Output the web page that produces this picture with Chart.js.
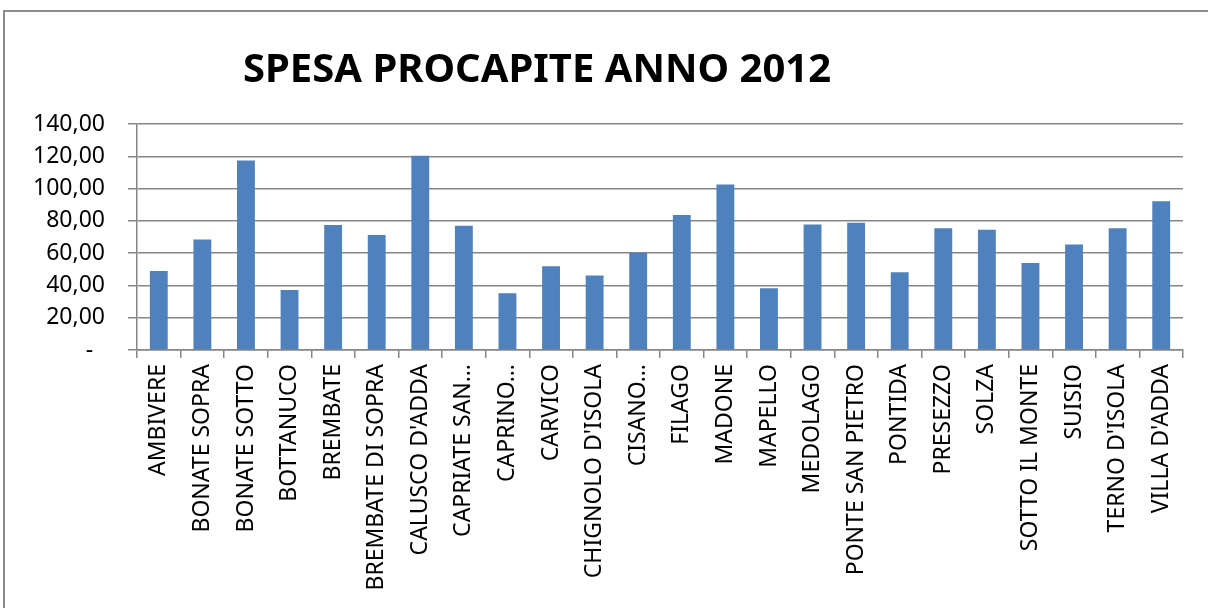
<!DOCTYPE html>
<html>
<head>
<meta charset="utf-8">
<script src="https://cdn.jsdelivr.net/npm/chart.js@4/dist/chart.umd.min.js"></script>
<style>
  html, body { margin: 0; padding: 0; background: #ffffff; overflow: hidden; }
  #wrap { position: relative; width: 1208px; height: 608px; overflow: hidden; }
  #frame {
    position: absolute; left: 3px; top: 10px; width: 1300px; height: 700px;
    border-left: 2px solid #8c8c8c; border-top: 2px solid #8c8c8c;
  }
  #chart { position: absolute; left: 0; top: 0; }
</style>
</head>
<body>
<div id="wrap">
  <div id="frame"></div>
  <canvas id="chart" width="1208" height="608"></canvas>
</div>
<script>
// ---------- DATA ----------
const comuni = [
  "AMBIVERE", "BONATE SOPRA", "BONATE SOTTO", "BOTTANUCO", "BREMBATE",
  "BREMBATE DI SOPRA", "CALUSCO D'ADDA", "CAPRIATE SAN…", "CAPRINO…", "CARVICO",
  "CHIGNOLO D'ISOLA", "CISANO…", "FILAGO", "MADONE", "MAPELLO",
  "MEDOLAGO", "PONTE SAN PIETRO", "PONTIDA", "PRESEZZO", "SOLZA",
  "SOTTO IL MONTE", "SUISIO", "TERNO D'ISOLA", "VILLA D'ADDA"
];

const spesaProcapite = [
  49.0, 68.4, 117.4, 37.1, 77.4,
  71.2, 120.4, 77.0, 35.2, 51.9,
  46.1, 60.3, 83.6, 102.5, 38.3,
  77.8, 78.9, 48.2, 75.4, 74.5,
  53.9, 65.3, 75.4, 92.2
];

const titolo = "SPESA PROCAPITE ANNO 2012";

// ---------- SETTINGS ----------
const FONT = '"Noto Sans", "Open Sans", sans-serif';
const GRID = "#868686";
const BAR = "#4f81bd";

// title sits left of the plot centre, so draw it by hand
const titlePlugin = {
  id: "offsetTitle",
  afterDraw(chart) {
    const ctx = chart.ctx;
    ctx.save();
    ctx.font = "bold 40px " + FONT;
    ctx.fillStyle = "#000000";
    ctx.textAlign = "center";
    ctx.textBaseline = "middle";
    ctx.fillText(titolo, 537, 71);
    ctx.restore();
  },
};

// ---------- CREATE CHART ----------
const ctx = document.getElementById("chart").getContext("2d");

new Chart(ctx, {
  type: "bar",
  data: {
    labels: comuni,
    datasets: [
      {
        label: titolo,
        data: spesaProcapite,
        backgroundColor: BAR,
        borderWidth: 0,
        barPercentage: 0.41,
        categoryPercentage: 1,
      },
    ],
  },
  plugins: [titlePlugin],
  options: {
    responsive: false,
    animation: false,
    layout: {
      padding: { top: 124, right: 25, left: 0, bottom: 0 },
    },
    plugins: {
      legend: { display: false },
      title: { display: false },
      tooltip: { enabled: false },
    },
    scales: {
      x: {
        afterFit(scale) {
          scale.height = 258;
        },
        border: { display: true, color: GRID, width: 1.5 },
        grid: {
          display: true,
          offset: true,
          drawOnChartArea: false,
          drawTicks: true,
          tickLength: 8,
          color: GRID,
          lineWidth: 1.5,
        },
        ticks: {
          autoSkip: false,
          maxRotation: 90,
          minRotation: 90,
          padding: 6,
          color: "#000000",
          font: { family: FONT, size: 23 },
        },
      },
      y: {
        min: 0,
        max: 140,
        afterFit(scale) {
          scale.width = 137;
        },
        border: { display: true, color: GRID, width: 1.5 },
        grid: {
          color: GRID,
          lineWidth: 1.5,
          drawTicks: true,
          tickLength: 9,
        },
        ticks: {
          stepSize: 20,
          padding: 23,
          color: "#000000",
          font: { family: FONT, size: 23 },
          callback: (v) => (v === 0 ? "-  " : v.toFixed(2).replace(".", ",")),
        },
      },
    },
  },
});
</script>
</body>
</html>
